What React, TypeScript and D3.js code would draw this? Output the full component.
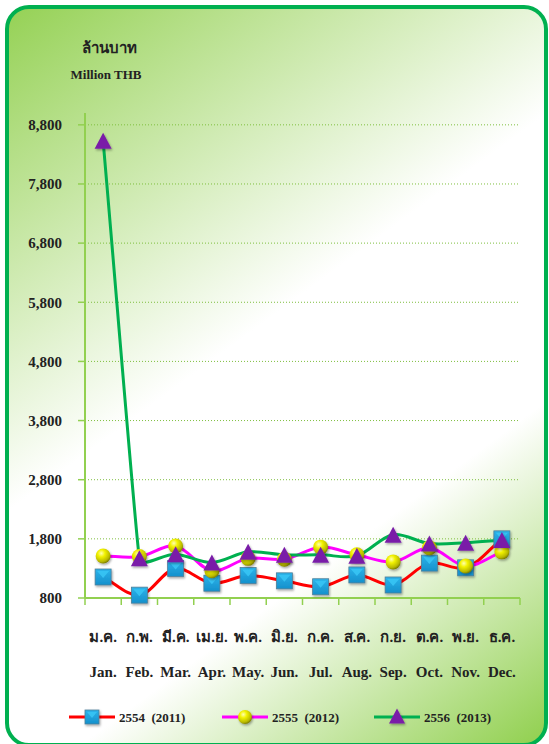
import React from "react";
import * as d3 from "d3";

const monthsThai = ["ม.ค.", "ก.พ.", "มี.ค.", "เม.ย.", "พ.ค.", "มิ.ย.", "ก.ค.", "ส.ค.", "ก.ย.", "ต.ค.", "พ.ย.", "ธ.ค."];
const monthsEng = ["Jan.", "Feb.", "Mar.", "Apr.", "May.", "Jun.", "Jul.", "Aug.", "Sep.", "Oct.", "Nov.", "Dec."];
const s2011 = [1155, 848, 1300, 1050, 1180, 1090, 990, 1190, 1020, 1390, 1310, 1800];
const s2012 = [1510, 1500, 1680, 1260, 1470, 1455, 1660, 1530, 1410, 1650, 1340, 1580];
const s2013 = [8530, 1470, 1540, 1400, 1580, 1530, 1530, 1515, 1870, 1720, 1735, 1780];
const yTicks = [800, 1800, 2800, 3800, 4800, 5800, 6800, 7800, 8800];
const seriesNames = ["2554  (2011)", "2555  (2012)", "2556  (2013)"];

const FONT = "'Liberation Serif', 'Times New Roman', serif";

type Pt = [number, number];

// Excel-like smoothed path: cubic Bezier with control arms limited by neighbouring segment lengths
function smoothPath(pts: Pt[]): string {
  const p = d3.path();
  const n = pts.length;
  const dist = (a: Pt, b: Pt) => Math.hypot(b[0] - a[0], b[1] - a[1]);
  const arms = pts.map((cur, i) => {
    const prev = pts[Math.max(0, i - 1)];
    const next = pts[Math.min(n - 1, i + 1)];
    const tx = next[0] - prev[0];
    const ty = next[1] - prev[1];
    const tl = Math.hypot(tx, ty) || 1;
    const ux = tx / tl;
    const uy = ty / tl;
    const d1 = i > 0 ? dist(prev, cur) : 0;
    const d2 = i < n - 1 ? dist(cur, next) : 0;
    const base = tl / 6;
    const cap = i > 0 && i < n - 1 ? 0.5 * Math.min(d1, d2) : Infinity;
    const s = d1 + d2 || 1;
    const lb = Math.min((base * 2 * d1) / s, cap);
    const la = Math.min((base * 2 * d2) / s, cap);
    return {
      before: [cur[0] - ux * lb, cur[1] - uy * lb] as Pt,
      after: [cur[0] + ux * la, cur[1] + uy * la] as Pt,
    };
  });
  p.moveTo(pts[0][0], pts[0][1]);
  for (let i = 0; i < n - 1; i++) {
    const a: Pt = i === 0 ? [pts[0][0] + (pts[1][0] - pts[0][0]) / 3, pts[0][1] + (pts[1][1] - pts[0][1]) / 3] : arms[i].after;
    const b: Pt =
      i + 1 === n - 1
        ? [pts[n - 1][0] - (pts[n - 1][0] - pts[n - 2][0]) / 3, pts[n - 1][1] - (pts[n - 1][1] - pts[n - 2][1]) / 3]
        : arms[i + 1].before;
    p.bezierCurveTo(a[0], a[1], b[0], b[1], pts[i + 1][0], pts[i + 1][1]);
  }
  return p.toString();
}

function Square({ x, y, s = 16 }: { x: number; y: number; s?: number }) {
  const h = s / 2;
  return (
    <g transform={`translate(${x},${y})`} filter="url(#shadow)">
      <rect x={-h} y={-h} width={s} height={s} fill="url(#sqGrad)" stroke="#4f7f99" strokeWidth={0.8} />
      <polygon points={`${-h + 2},${-h + 2} ${h - 2},${-h + 2} 0,${1}`} fill="#37c4f4" opacity={0.9} />
    </g>
  );
}

function Ball({ x, y, r = 7.5 }: { x: number; y: number; r?: number }) {
  return <circle cx={x} cy={y} r={r} fill="url(#ballGrad)" filter="url(#shadow)" />;
}

function Tri({ x, y, w = 17, h = 16 }: { x: number; y: number; w?: number; h?: number }) {
  return (
    <polygon
      points={`${x},${y - h / 2} ${x + w / 2},${y + h / 2} ${x - w / 2},${y + h / 2}`}
      fill="#7a1fa8"
      filter="url(#shadow)"
    />
  );
}

export default function App() {
  const W = 549;
  const H = 744;
  const x = d3.scaleBand<string>().domain(monthsEng).range([85, 520]);
  const y = d3.scaleLinear().domain([800, 9000]).range([598, 113]);
  const cx = (i: number) => (x(monthsEng[i]) as number) + x.bandwidth() / 2;
  const toPts = (arr: number[]) => arr.map((v, i) => [cx(i), y(v)] as Pt);

  const tickXs = [...monthsEng.map((m) => x(m) as number), 520];

  const legendItems = [
    { x0: 69, color: "#ff0000", kind: "sq" },
    { x0: 222, color: "#ff00ff", kind: "ball" },
    { x0: 374, color: "#00b050", kind: "tri" },
  ];

  return (
    <svg width={W} height={H} style={{ position: "absolute", left: 0, top: 0 }} fontFamily={FONT}>
      <defs>
        <linearGradient id="bg" gradientUnits="userSpaceOnUse" x1={0} y1={0} x2={W} y2={H}>
          <stop offset="0" stopColor="#92d050" />
          <stop offset="0.45" stopColor="#ffffff" />
          <stop offset="0.7" stopColor="#ffffff" />
          <stop offset="1" stopColor="#8fcf4c" />
        </linearGradient>
        <linearGradient id="sqGrad" x1="0" y1="0" x2="0" y2="1">
          <stop offset="0" stopColor="#2cb3ea" />
          <stop offset="1" stopColor="#1590cc" />
        </linearGradient>
        <radialGradient id="ballGrad" cx="0.38" cy="0.32" r="0.7">
          <stop offset="0" stopColor="#ffffb0" />
          <stop offset="0.35" stopColor="#f2f200" />
          <stop offset="0.8" stopColor="#b8b800" />
          <stop offset="1" stopColor="#7a7a00" />
        </radialGradient>
        <filter id="shadow" x="-50%" y="-50%" width="200%" height="200%">
          <feDropShadow dx="1" dy="1.5" stdDeviation="1" floodColor="#000" floodOpacity="0.35" />
        </filter>
      </defs>

      <rect x={7} y={7} width={539} height={738} rx={22} ry={22} fill="url(#bg)" stroke="#00b050" strokeWidth={4} />

      {/* titles */}
      <text x={109} y={53} textAnchor="middle" fontSize={15} fontWeight="bold" fill="#222">ล้านบาท</text>
      <text x={106} y={79} textAnchor="middle" fontSize={13} fontWeight="bold" fill="#222">Million THB</text>

      {/* gridlines */}
      {yTicks.slice(1).map((t) => (
        <line key={t} x1={85} x2={520} y1={y(t)} y2={y(t)} stroke="#7fbf3f" strokeWidth={1} strokeDasharray="1,2" />
      ))}
      {/* y ticks and labels */}
      {yTicks.map((t) => (
        <g key={"yt" + t}>
          <line x1={78} x2={85} y1={y(t)} y2={y(t)} stroke="#92d050" strokeWidth={1.5} />
          <text x={62} y={y(t)} dy="0.35em" textAnchor="end" fontSize={15} fontWeight="bold" fill="#222">
            {d3.format(",")(t)}
          </text>
        </g>
      ))}
      {/* axes */}
      <line x1={85} x2={85} y1={113} y2={598} stroke="#92d050" strokeWidth={2} />
      <line x1={85} x2={520} y1={598} y2={598} stroke="#92d050" strokeWidth={2} />
      {tickXs.map((t, i) => (
        <line key={"xt" + i} x1={t} x2={t} y1={598} y2={605} stroke="#92d050" strokeWidth={1.5} />
      ))}

      {/* x labels */}
      {monthsThai.map((m, i) => (
        <text key={"th" + i} x={cx(i)} y={637} dy="0.35em" textAnchor="middle" fontSize={15} fontWeight="bold" fill="#222">
          {m}
        </text>
      ))}
      {monthsEng.map((m, i) => (
        <text key={"en" + i} x={cx(i)} y={672} dy="0.35em" textAnchor="middle" fontSize={15} fontWeight="bold" fill="#222">
          {m}
        </text>
      ))}

      {/* lines */}
      <path d={smoothPath(toPts(s2011))} fill="none" stroke="#ff0000" strokeWidth={3} />
      <path d={smoothPath(toPts(s2012))} fill="none" stroke="#ff00ff" strokeWidth={3} />
      <path d={smoothPath(toPts(s2013))} fill="none" stroke="#00b050" strokeWidth={3} />

      {/* markers */}
      {s2011.map((v, i) => (
        <Square key={"a" + i} x={cx(i)} y={y(v)} />
      ))}
      {s2012.map((v, i) => (
        <Ball key={"b" + i} x={cx(i)} y={y(v)} />
      ))}
      {s2013.map((v, i) => (
        <Tri key={"c" + i} x={cx(i)} y={y(v)} />
      ))}

      {/* legend */}
      {legendItems.map((it, i) => (
        <g key={"lg" + i}>
          <line x1={it.x0} x2={it.x0 + 46} y1={717} y2={717} stroke={it.color} strokeWidth={3} />
          {it.kind === "sq" && <Square x={it.x0 + 23} y={717} s={14} />}
          {it.kind === "ball" && <Ball x={it.x0 + 23} y={717} r={7} />}
          {it.kind === "tri" && <Tri x={it.x0 + 23} y={716} w={16} h={15} />}
          <text x={it.x0 + 50} y={717} dy="0.35em" fontSize={13} fontWeight="bold" fill="#222" style={{ whiteSpace: "pre" }}>
            {seriesNames[i]}
          </text>
        </g>
      ))}
    </svg>
  );
}
